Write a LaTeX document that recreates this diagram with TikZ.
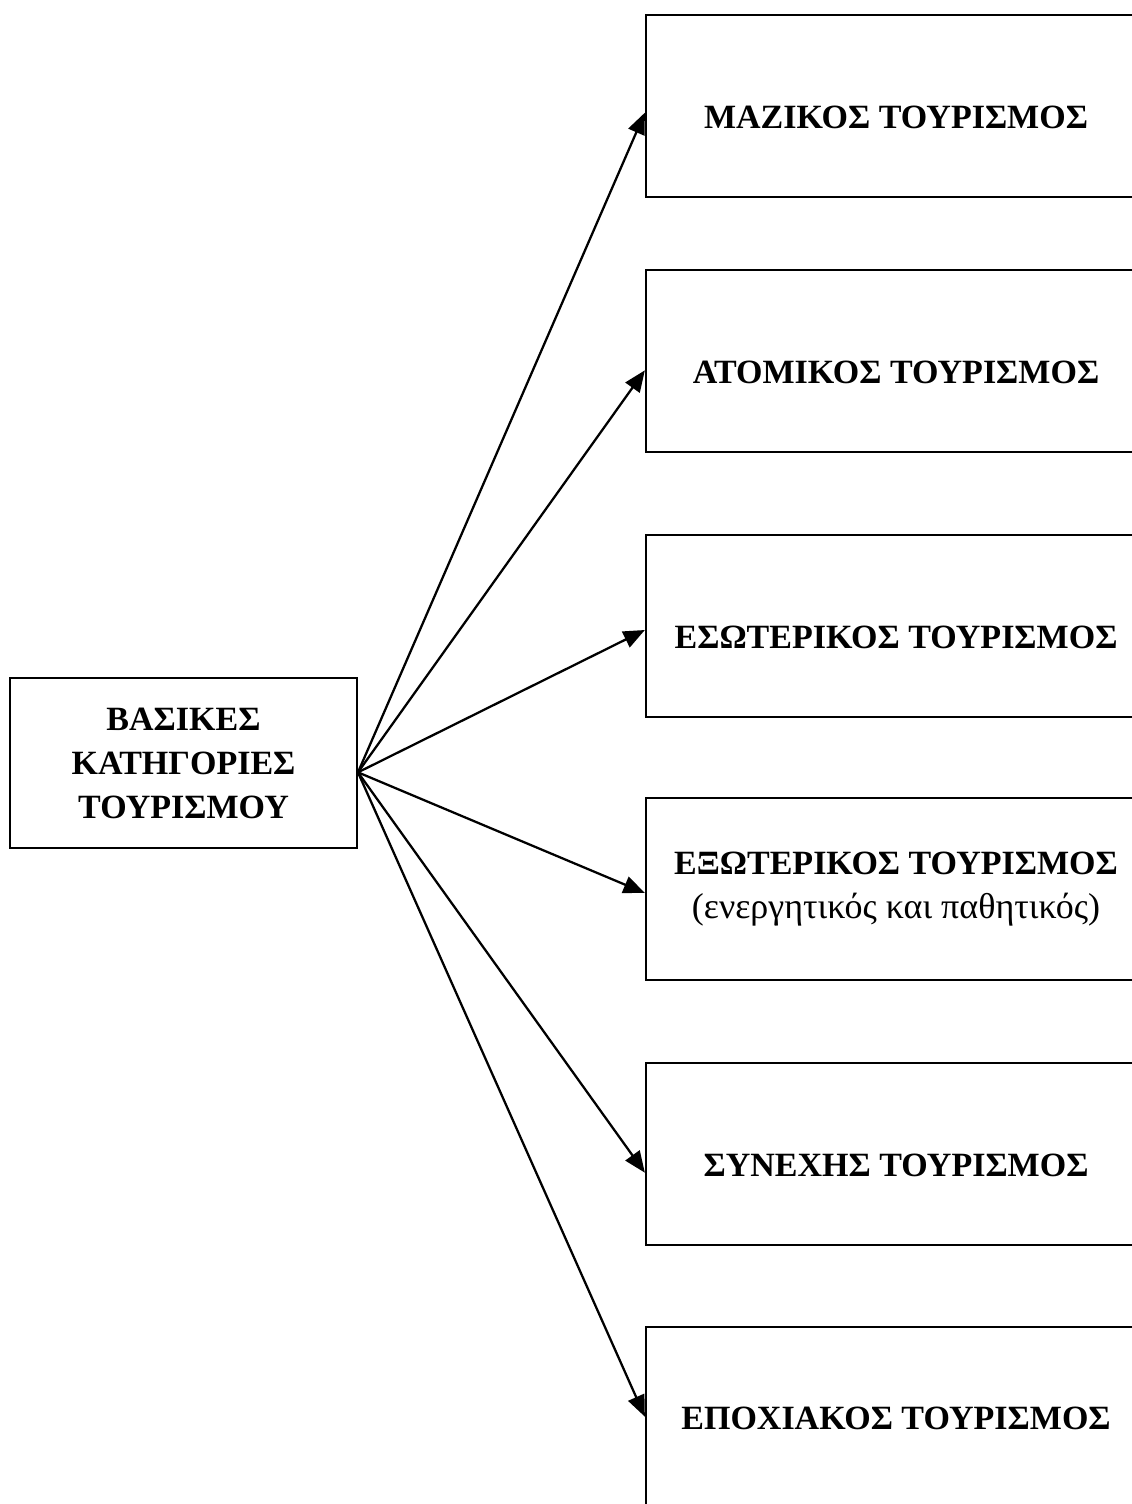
\documentclass[tikz,border=0pt]{standalone}
\usepackage{fontspec}
\setmainfont{Liberation Serif}
\usetikzlibrary{arrows.meta}

\begin{document}
\begin{tikzpicture}[x=0.75pt, y=-0.75pt,
    box/.style={draw, line width=1.7pt, inner sep=0pt, align=center,
      font=\bfseries\fontsize{25.5}{33}\selectfont},
    kind/.style={box, minimum width=375pt, minimum height=136.5pt},
    one/.style={kind, text height=33pt, text depth=0pt},
    arr/.style={line width=1.7pt, -{Triangle[length=16pt,width=13pt]}}]

      \useasboundingbox (0,0) rectangle (1132,1504);
      \clip (0,0) rectangle (1132,1504);

      \node[box, minimum width=260pt, minimum height=127.5pt] (cat) at (183.5,763)
        {ΒΑΣΙΚΕΣ\\ΚΑΤΗΓΟΡΙΕΣ\\ΤΟΥΡΙΣΜΟΥ};
      \coordinate (hub) at ([yshift=-7pt]cat.east);

      \node[one] (mass) at (896,106) {ΜΑΖΙΚΟΣ ΤΟΥΡΙΣΜΟΣ};
      \node[one] (indiv) at (896,361) {ΑΤΟΜΙΚΟΣ ΤΟΥΡΙΣΜΟΣ};
      \node[one] (inner) at (896,626) {ΕΣΩΤΕΡΙΚΟΣ ΤΟΥΡΙΣΜΟΣ};
      \node[kind] (outer) at (896,889)
        {ΕΞΩΤΕΡΙΚΟΣ ΤΟΥΡΙΣΜΟΣ\\\mdseries\fontsize{27}{36}\selectfont(ενεργητικός και παθητικός)};
      \node[one] (cont) at (896,1154) {ΣΥΝΕΧΗΣ ΤΟΥΡΙΣΜΟΣ};
      \node[kind] (season) at (896,1418) {ΕΠΟΧΙΑΚΟΣ ΤΟΥΡΙΣΜΟΣ};

      \foreach \b/\dy in {mass/-5pt, indiv/-7pt, inner/-3pt, outer/-3pt, cont/-14pt, season/1pt}
      \draw[arr] (hub) -- ([yshift=\dy]\b.west);
    \end{tikzpicture}
\end{document}
